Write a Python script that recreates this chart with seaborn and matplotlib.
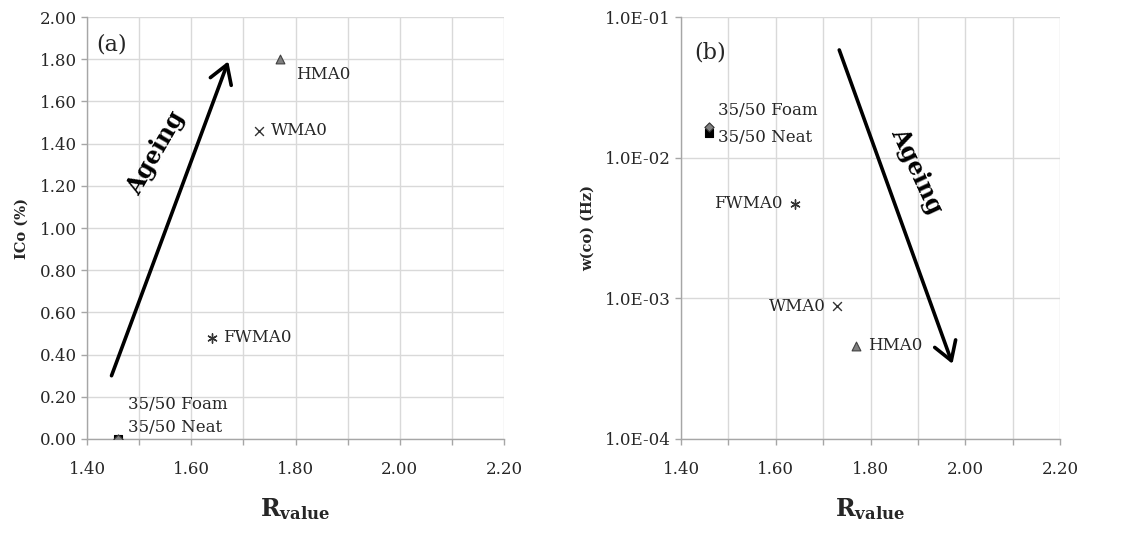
import numpy as np
import pandas as pd
import matplotlib
matplotlib.use("Agg")
import matplotlib.pyplot as plt
import matplotlib.ticker as mticker
import seaborn as sns

# ---- data ----
samples = ["35/50 Neat", "35/50 Foam", "FWMA0", "WMA0", "HMA0"]
r_value = [1.46, 1.46, 1.64, 1.73, 1.77]
ico_pct = [0.00, 0.00, 0.48, 1.46, 1.80]
w_co_hz = [0.0149, 0.0166, 0.0047, 0.00088, 0.00046]
x_ticks = [1.40, 1.60, 1.80, 2.00, 2.20]
ico_ticks = [0.0, 0.2, 0.4, 0.6, 0.8, 1.0, 1.2, 1.4, 1.6, 1.8, 2.0]
wco_ticks = [1e-4, 1e-3, 1e-2, 1e-1]

df = pd.DataFrame({"sample": samples, "R": r_value, "ICo": ico_pct, "wco": w_co_hz})

styles = {
    "35/50 Neat": dict(marker="s", color="#000000", edgecolor="#000000", s=30, linewidth=0.8),
    "35/50 Foam": dict(marker="D", color="#808080", edgecolor="#333333", s=22, linewidth=0.8),
    "FWMA0": dict(marker=(6, 2, 0), color="#333333", s=45, linewidth=1.0),
    "WMA0": dict(marker="x", color="#333333", s=40, linewidth=1.0),
    "HMA0": dict(marker="^", color="#7f7f7f", edgecolor="#404040", s=40, linewidth=0.8),
}

sns.set_style("white")
plt.rcParams["font.family"] = ["DejaVu Serif"]
plt.rcParams["mathtext.fontset"] = "dejavuserif"

fig = plt.figure(figsize=(11.36, 5.45), dpi=100)
axL = fig.add_axes([0.0766, 0.1945, 0.3671, 0.7743])
axR = fig.add_axes([0.5995, 0.1945, 0.3336, 0.7743])

grid_c = "#d9d9d9"
spine_c = "#a6a6a6"
text_c = "#262626"

for ax, ycol in ((axL, "ICo"), (axR, "wco")):
    for name in samples:
        sub = df[df["sample"] == name]
        sns.scatterplot(data=sub, x="R", y=ycol, ax=ax, legend=False, zorder=5, **styles[name])
    ax.set_xlim(1.40, 2.20)
    ax.xaxis.set_major_locator(mticker.FixedLocator(x_ticks))
    ax.xaxis.set_minor_locator(mticker.MultipleLocator(0.1))
    ax.xaxis.set_major_formatter(mticker.FormatStrFormatter("%.2f"))
    ax.grid(True, which="both", axis="x", color=grid_c, lw=1.0)
    ax.grid(True, which="major", axis="y", color=grid_c, lw=1.0)
    ax.set_axisbelow(True)
    for sp in ("top", "right"):
        ax.spines[sp].set_visible(False)
    for sp in ("left", "bottom"):
        ax.spines[sp].set_color(spine_c)
        ax.spines[sp].set_linewidth(1.0)
    ax.tick_params(axis="x", which="major", direction="out", length=4, width=1, color=spine_c,
                   labelsize=12, labelcolor=text_c, pad=12, bottom=True)
    ax.tick_params(axis="x", which="minor", direction="out", length=4, width=1, color=spine_c, bottom=True)
    ax.tick_params(axis="y", which="major", direction="out", length=4, width=1, color=spine_c,
                   labelsize=12, labelcolor=text_c, pad=3, left=True)
    ax.set_xlabel(r"$\mathbf{R}_{\mathbf{value}}$", fontsize=17, color=text_c)
    ax.xaxis.set_label_coords(0.5, -0.135)

# left panel y axis
axL.set_ylim(0, 2.0)
axL.yaxis.set_major_locator(mticker.FixedLocator(ico_ticks))
axL.yaxis.set_major_formatter(mticker.FormatStrFormatter("%.2f"))
axL.set_ylabel("ICo (%)", fontsize=10.5, fontweight="bold", color=text_c)
axL.yaxis.set_label_coords(-0.141, 0.5)

# right panel y axis
axR.set_yscale("log")
axR.set_ylim(1e-4, 1e-1)
axR.yaxis.set_major_locator(mticker.FixedLocator(wco_ticks))
axR.yaxis.set_minor_locator(mticker.NullLocator())
axR.yaxis.set_major_formatter(mticker.FuncFormatter(lambda v, p: "{:.1E}".format(v)))
axR.set_ylabel("w(co) (Hz)", fontsize=10.5, fontweight="bold", color=text_c)
axR.yaxis.set_label_coords(-0.227, 0.5)

# point labels
lab_kw = dict(textcoords="offset pixels", fontsize=12, color=text_c, va="center")
offL = {"35/50 Foam": (10, 34, "left"), "35/50 Neat": (10, 11, "left"),
        "FWMA0": (11, 0, "left"), "WMA0": (12, 0, "left"), "HMA0": (16, -15, "left")}
offR = {"35/50 Foam": (9, 16, "left"), "35/50 Neat": (9, -4, "left"),
        "FWMA0": (-12, 0, "right"), "WMA0": (-12, 0, "right"), "HMA0": (12, 0, "left")}
for name, x, y1, y2 in zip(samples, r_value, ico_pct, w_co_hz):
    dx, dy, ha = offL[name]
    axL.annotate(name, (x, y1), xytext=(dx, dy), ha=ha, **lab_kw)
    dx, dy, ha = offR[name]
    axR.annotate(name, (x, y2), xytext=(dx, dy), ha=ha, **lab_kw)

# arrows and annotations
arrow_kw = dict(arrowstyle="->,head_length=0.65,head_width=0.4", lw=2.6, color="black",
                mutation_scale=20, shrinkA=0, shrinkB=0)
axL.annotate("", xy=(1.671, 1.79), xytext=(1.447, 0.30), arrowprops=arrow_kw)
axR.annotate("", xy=(1.973, 0.000342), xytext=(1.734, 0.0583), arrowprops=arrow_kw)

axL.text(0.165, 0.677, "Ageing", transform=axL.transAxes, rotation=60, fontsize=17,
         fontweight="bold", ha="center", va="center", color="black")
axR.text(0.622, 0.636, "Ageing", transform=axR.transAxes, rotation=-65, fontsize=17,
         fontweight="bold", ha="center", va="center", color="black")

axL.text(0.059, 0.934, "(a)", transform=axL.transAxes, fontsize=16, ha="center", va="center", color=text_c)
axR.text(0.078, 0.915, "(b)", transform=axR.transAxes, fontsize=16, ha="center", va="center", color=text_c)

fig.savefig("out.png", dpi=100)
